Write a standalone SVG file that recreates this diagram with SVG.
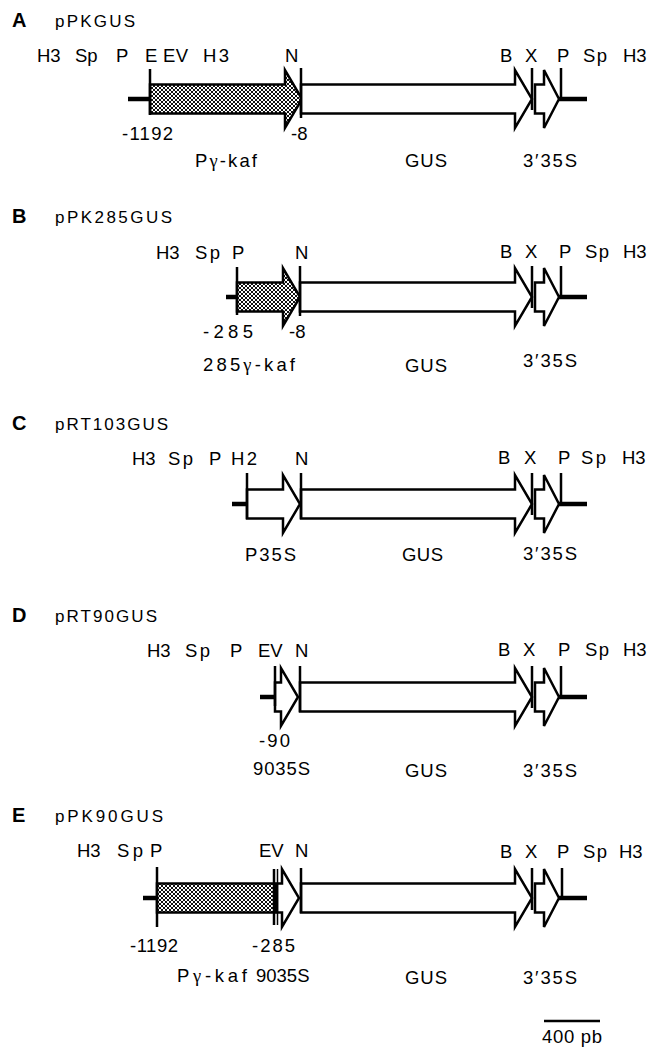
<svg xmlns="http://www.w3.org/2000/svg" width="651" height="1050" viewBox="0 0 651 1050">
<style>
text{font-family:"Liberation Sans",Arial,"DejaVu Sans",sans-serif;fill:#000;font-size:18.5px}
.ttl{font-size:17px}
.pan{font-size:20px;font-weight:bold}
.g{font-family:"Liberation Serif","DejaVu Serif",serif}
.w{fill:#fff;stroke:#000;stroke-width:2.5;stroke-linejoin:miter}
.h{fill:url(#hatch);stroke:#000;stroke-width:2.5;stroke-linejoin:miter}
.t{stroke:#000;stroke-width:2.5;fill:none}
.bb{stroke:#000;stroke-width:4.5;fill:none}
</style>
<defs>
<pattern id="hatch" width="4" height="4" patternUnits="userSpaceOnUse">
<rect width="4" height="4" fill="#fff"/>
<path d="M0,0 L4,4 M4,0 L0,4" stroke="#111" stroke-width="1"/>
</pattern>
</defs>
<rect width="651" height="1050" fill="#fff"/>

<!-- Backbone lines -->
<g id="connectors">
<line class="bb" x1="128" y1="99" x2="150" y2="99"/>
<line class="bb" x1="559" y1="99" x2="587" y2="99"/>
<line class="bb" x1="226" y1="297" x2="237" y2="297"/>
<line class="bb" x1="559" y1="297" x2="587" y2="297"/>
<line class="bb" x1="232" y1="504" x2="247" y2="504"/>
<line class="bb" x1="559" y1="504" x2="587" y2="504"/>
<line class="bb" x1="260" y1="697" x2="275" y2="697"/>
<line class="bb" x1="559" y1="697" x2="587" y2="697"/>
<line class="bb" x1="143" y1="898" x2="157" y2="898"/>
<line class="bb" x1="559" y1="898" x2="587" y2="898"/>
</g>

<!-- Panel A -->
<g id="panelA">
<text class="pan" x="12" y="27">A</text>
<text class="ttl" x="55" y="27" textLength="80">pPKGUS</text>
<g id="A-sites">
<text x="37" y="62">H3</text>
<text x="75" y="62">Sp</text>
<text x="116" y="62">P</text>
<text x="145" y="62">E</text>
<text x="163" y="62" textLength="25">EV</text>
<text x="203" y="62" textLength="26">H3</text>
<text x="285" y="62">N</text>
<text x="500" y="62">B</text>
<text x="525" y="62">X</text>
<text x="557" y="62">P</text>
<text x="583" y="62" textLength="24">Sp</text>
<text x="623" y="62">H3</text>
</g>
<g id="A-promoter">
<path class="h" d="M150,84.5 H285 V70 L302,99 L285,128 V113.5 H150 Z"/>
<line class="t" x1="150" y1="69" x2="150" y2="115"/>
<text x="122" y="140" textLength="51">-1192</text>
<text x="291" y="140">-8</text>
<text x="195" y="167" textLength="62">P<tspan class="g">γ</tspan>-kaf</text>
</g>
<g id="A-gus">
<path class="w" d="M301,84.5 H515 V70 L532,99 L515,128 V113.5 H301 Z"/>
<line class="t" x1="301" y1="68" x2="301" y2="118"/>
<text x="405" y="167" textLength="42">GUS</text>
</g>
<g id="A-term">
<line class="t" x1="532" y1="68" x2="532" y2="110"/>
<path class="w" d="M535,84.5 H544 V70 L559,99 L544,128 V113.5 H535 Z"/>
<line class="t" x1="561" y1="68" x2="561" y2="100"/>
<text x="523" y="167" textLength="54">3′35S</text>
</g>
</g>

<!-- Panel B -->
<g id="panelB">
<text class="pan" x="12" y="223">B</text>
<text class="ttl" x="55" y="223" textLength="117">pPK285GUS</text>
<g id="B-sites">
<text x="156" y="259">H3</text>
<text x="195" y="259" textLength="25">Sp</text>
<text x="232" y="259">P</text>
<text x="295" y="259">N</text>
<text x="500" y="258">B</text>
<text x="525" y="258">X</text>
<text x="559" y="258">P</text>
<text x="585" y="258" textLength="24">Sp</text>
<text x="623" y="258">H3</text>
</g>
<g id="B-promoter">
<path class="h" d="M237,282.5 H283 V268 L300,297 L283,326 V311.5 H237 Z"/>
<line class="t" x1="237" y1="267" x2="237" y2="315"/>
<text x="203" y="338" textLength="50">-285</text>
<text x="289" y="338">-8</text>
<text x="203" y="371" textLength="92">285<tspan class="g">γ</tspan>-kaf</text>
</g>
<g id="B-gus">
<path class="w" d="M300,282.5 H515 V268 L532,297 L515,326 V311.5 H300 Z"/>
<line class="t" x1="300" y1="266" x2="300" y2="316"/>
<text x="405" y="372" textLength="42">GUS</text>
</g>
<g id="B-term">
<line class="t" x1="532" y1="266" x2="532" y2="308"/>
<path class="w" d="M535,282.5 H544 V268 L559,297 L544,326 V311.5 H535 Z"/>
<line class="t" x1="561" y1="266" x2="561" y2="298"/>
<text x="523" y="367" textLength="54">3′35S</text>
</g>
</g>

<!-- Panel C -->
<g id="panelC">
<text class="pan" x="12" y="430">C</text>
<text class="ttl" x="55" y="430" textLength="113">pRT103GUS</text>
<g id="C-sites">
<text x="132" y="465">H3</text>
<text x="168" y="465" textLength="25">Sp</text>
<text x="209" y="465">P</text>
<text x="231" y="465" textLength="26">H2</text>
<text x="295" y="465">N</text>
<text x="498" y="464">B</text>
<text x="524" y="464">X</text>
<text x="558" y="464">P</text>
<text x="581" y="464" textLength="25">Sp</text>
<text x="622" y="464">H3</text>
</g>
<g id="C-promoter">
<path class="w" d="M247,489.5 H283 V475 L300,504 L283,533 V518.5 H247 Z"/>
<line class="t" x1="247" y1="473" x2="247" y2="519"/>
<text x="245" y="561" textLength="51">P35S</text>
</g>
<g id="C-gus">
<path class="w" d="M301,489.5 H515 V475 L532,504 L515,533 V518.5 H301 Z"/>
<line class="t" x1="301" y1="473" x2="301" y2="519"/>
<text x="402" y="561" textLength="41">GUS</text>
</g>
<g id="C-term">
<line class="t" x1="532" y1="473" x2="532" y2="515"/>
<path class="w" d="M535,489.5 H544 V475 L559,504 L544,533 V518.5 H535 Z"/>
<line class="t" x1="561" y1="473" x2="561" y2="505"/>
<text x="523" y="560" textLength="54">3′35S</text>
</g>
</g>

<!-- Panel D -->
<g id="panelD">
<text class="pan" x="12" y="622">D</text>
<text class="ttl" x="55" y="622" textLength="102">pRT90GUS</text>
<g id="D-sites">
<text x="147" y="657">H3</text>
<text x="185" y="657" textLength="25">Sp</text>
<text x="230" y="657">P</text>
<text x="258" y="657">EV</text>
<text x="295" y="657">N</text>
<text x="498" y="656">B</text>
<text x="523" y="656">X</text>
<text x="558" y="656">P</text>
<text x="585" y="656" textLength="24">Sp</text>
<text x="623" y="656">H3</text>
</g>
<g id="D-promoter">
<path class="w" d="M275,682.5 H281 V668 L298,697 L281,726 V711.5 H275 Z"/>
<line class="t" x1="275" y1="666" x2="275" y2="706"/>
<text x="259" y="747" textLength="31">-90</text>
<text x="253" y="775" textLength="57">9035S</text>
</g>
<g id="D-gus">
<path class="w" d="M300,682.5 H515 V668 L532,697 L515,726 V711.5 H300 Z"/>
<line class="t" x1="300" y1="666" x2="300" y2="712"/>
<text x="405" y="777" textLength="42">GUS</text>
</g>
<g id="D-term">
<line class="t" x1="532" y1="666" x2="532" y2="708"/>
<path class="w" d="M535,682.5 H544 V668 L559,697 L544,726 V711.5 H535 Z"/>
<line class="t" x1="561" y1="666" x2="561" y2="698"/>
<text x="523" y="777" textLength="54">3′35S</text>
</g>
</g>

<!-- Panel E -->
<g id="panelE">
<text class="pan" x="12" y="822">E</text>
<text class="ttl" x="55" y="822" textLength="108">pPK90GUS</text>
<g id="E-sites">
<text x="77" y="857">H3</text>
<text x="117" y="857" textLength="26">Sp</text>
<text x="150" y="857">P</text>
<text x="259" y="857">EV</text>
<text x="295" y="857">N</text>
<text x="500" y="858">B</text>
<text x="525" y="858">X</text>
<text x="557" y="858">P</text>
<text x="583" y="858" textLength="24">Sp</text>
<text x="619" y="858">H3</text>
</g>
<g id="E-promoter">
<path class="h" d="M157,883.5 H275 V912.5 H157 Z"/>
<line class="t" x1="157" y1="867" x2="157" y2="927"/>
<text x="130" y="952" textLength="48">-1192</text>
<text x="177" y="982" textLength="70">P<tspan class="g">γ</tspan>-kaf</text>
</g>
<g id="E-90">
<path class="w" d="M277,883.5 H282 V869 L299,898 L282,927 V912.5 H277 Z"/>
<line class="t" x1="274" y1="869" x2="274" y2="925"/>
<line class="t" x1="277.5" y1="869" x2="277.5" y2="925" style="stroke-width:1.5"/>
<text x="252" y="952" textLength="43">-285</text>
<text x="256" y="982">9035S</text>
</g>
<g id="E-gus">
<path class="w" d="M301,883.5 H515 V869 L532,898 L515,927 V912.5 H301 Z"/>
<line class="t" x1="301" y1="868" x2="301" y2="913"/>
<text x="405" y="984" textLength="42">GUS</text>
</g>
<g id="E-term">
<line class="t" x1="532" y1="868" x2="532" y2="910"/>
<path class="w" d="M535,883.5 H544 V869 L559,898 L544,927 V912.5 H535 Z"/>
<line class="t" x1="562" y1="868" x2="562" y2="899"/>
<text x="523" y="984" textLength="54">3′35S</text>
</g>
</g>

<!-- Scale bar -->
<g id="scale">
<line x1="544" y1="1021" x2="600" y2="1021" stroke="#000" stroke-width="2.5"/>
<text x="542" y="1043" textLength="60">400 pb</text>
</g>
</svg>
